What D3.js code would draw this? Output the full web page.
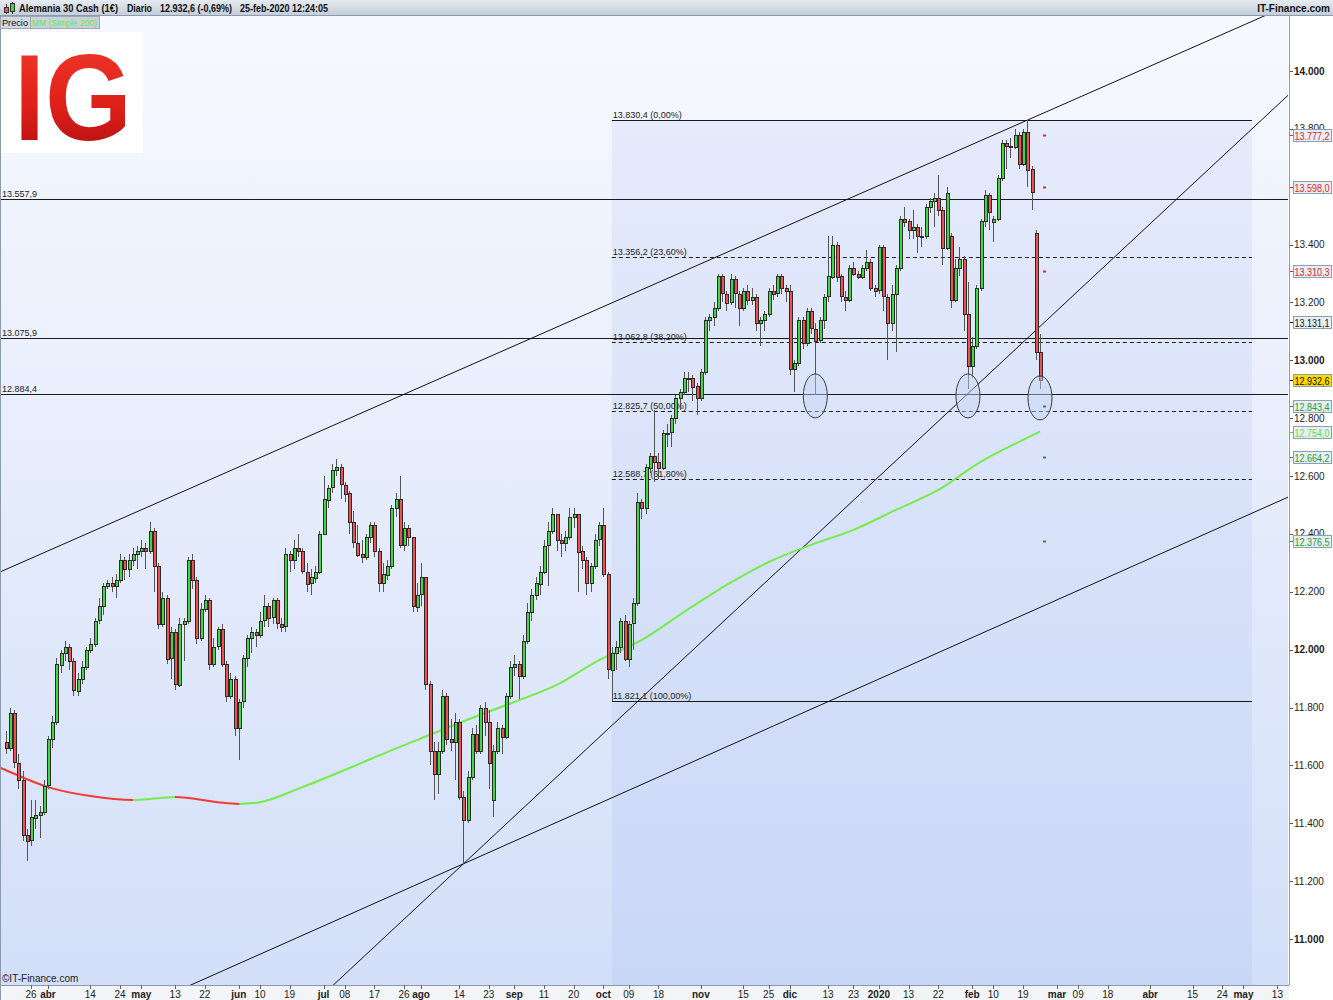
<!DOCTYPE html>
<html>
<head>
<meta charset="utf-8">
<script src="https://cdn.jsdelivr.net/npm/d3@7"></script>
<style>
body { margin: 0; background: #fff; }
svg { display: block; font-family: "Liberation Sans", Arial, sans-serif; }
</style>
</head>
<body>
<div id="chart"></div>
<script>
var firstDay = '2019-03-18';
var lastDay = '2020-05-22';
var holidays = ['2019-12-25', '2020-01-01'];

// daily candles, one per trading day from 18-mar-2019 to 25-feb-2020
var opens = [
	11680,11660,11780,11610,11550,11360,11340,11420,11430,11440,
	11530,11690,11750,11950,11990,12010,11960,11860,11900,11940,12000,12020,12100,12150,12220,12230,12220,12240,12310,12280,12310,12330,
	12340,12350,12340,12410,12290,12090,12180,11970,12060,11880,12090,12100,12310,12240,12040,12140,12170,11950,12010,12070,11950,11840,11900,
	11730,11820,11970,12040,12060,12050,12100,12150,12110,12170,12090,12080,12330,12310,12350,12340,12270,12230,12250,12270,
	12400,12520,12560,12620,12630,12570,12540,12440,12370,12330,12320,12390,12430,12340,12230,12260,12290,12490,12520,12360,12420,12390,12150,
	12190,12250,11880,11650,11570,11650,11840,11690,11680,11750,11490,11410,11560,11710,11650,11800,11750,11480,11650,11730,11700,11840,
	11940,11950,11910,12030,12130,12190,12230,12270,12360,12410,12470,12380,12370,12390,12460,12470,12340,12310,12230,12290,12380,
	12430,12260,11930,11990,12010,12100,11970,12090,12160,12510,12490,12630,12670,12650,12630,12750,12750,12800,12870,12890,12940,12940,12910,
	12870,12960,13140,13150,13180,13290,13230,13200,13280,13230,13180,13240,13210,13220,13130,13140,13160,13240,13230,13290,13250,
	13240,12970,12990,13140,13060,13170,13110,13070,13140,13220,13290,13400,13290,13220,13210,13320,13300,13290,13320,13340,13250,
	13240,13390,13220,13130,13230,13320,13490,13480,13450,13460,13430,13430,13530,13550,13560,13520,13390,13430,13210,13320,13350,13160,
	12980,13050,13250,13480,13570,13480,13490,13630,13750,13740,13740,13780,13680,13790,13660,13440,13030
];
var highs = [
	11720,11800,11790,11640,11580,11380,11480,11480,11460,11550,
	11700,11770,11970,12000,12030,12020,11970,11920,11960,12010,12040,12110,12180,12230,12240,12250,12260,12330,12320,12330,12350,12360,
	12380,12370,12440,12420,12300,12200,12190,12080,12070,12110,12110,12320,12330,12250,12160,12190,12180,12040,12080,12090,11960,11920,11910,
	11830,11980,12050,12080,12070,12130,12190,12160,12180,12180,12110,12350,12340,12380,12400,12350,12300,12280,12290,12410,
	12600,12570,12640,12660,12640,12580,12550,12480,12430,12380,12400,12440,12440,12350,12300,12310,12500,12540,12600,12440,12430,12390,12230,
	12300,12250,11890,11680,11680,11860,11850,11760,11780,11760,11510,11580,11730,11740,11810,11820,11790,11670,11750,11740,11850,11960,
	11980,11960,12050,12160,12210,12250,12290,12380,12440,12490,12470,12400,12410,12490,12490,12470,12360,12320,12300,12400,12440,
	12490,12270,12010,12030,12110,12120,12100,12180,12540,12520,12640,12680,12830,12680,12760,12780,12810,12880,12900,12960,12960,12950,12920,
	12970,13150,13160,13200,13300,13300,13240,13300,13290,13240,13250,13260,13250,13230,13150,13170,13250,13260,13300,13300,13260,
	13260,13000,13150,13150,13180,13180,13130,13150,13230,13430,13430,13410,13300,13240,13330,13340,13310,13330,13380,13350,13260,
	13400,13400,13230,13260,13330,13500,13530,13490,13520,13470,13460,13540,13560,13580,13640,13530,13600,13440,13350,13390,13360,13270,
	13080,13260,13490,13590,13580,13500,13640,13760,13760,13770,13800,13790,13800,13830,13670,13450,13090
];
var lows = [
	11640,11650,11590,11520,11340,11270,11320,11380,11350,11430,
	11520,11660,11740,11920,11960,11930,11840,11840,11880,11930,11990,12010,12090,12120,12210,12200,12180,12230,12240,12250,12290,12280,
	12320,12280,12330,12200,12070,12080,11950,11900,11860,11870,11960,12090,12210,12020,12030,12130,11930,11940,12000,11940,11820,11830,11700,
	11620,11800,11940,11990,12010,12040,12080,12080,12090,12070,12060,12060,12270,12280,12320,12260,12200,12190,12230,12260,
	12400,12490,12540,12600,12520,12510,12400,12350,12320,12300,12310,12370,12320,12200,12200,12240,12280,12460,12350,12340,12360,12130,12130,
	12150,11860,11600,11480,11500,11640,11670,11650,11550,11480,11260,11400,11550,11640,11640,11700,11520,11420,11640,11640,11690,11830,
	11910,11830,11900,12020,12100,12170,12190,12260,12220,12400,12340,12320,12340,12380,12420,12200,12280,12190,12200,12280,12360,
	12250,11900,11821,11930,11990,11960,11940,12000,12150,12450,12470,12610,12580,12590,12620,12700,12700,12780,12830,12880,12890,12860,12810,
	12860,12950,13100,13120,13170,13200,13170,13190,13180,13120,13170,13190,13190,13100,13050,13100,13150,13210,13220,13230,13200,
	12950,12890,12980,13040,13050,13090,12880,13060,13110,13200,13280,13270,13200,13170,13200,13290,13280,13280,13310,13240,13220,
	13230,13170,13000,13100,13030,13310,13460,13420,13420,13370,13390,13420,13510,13460,13500,13330,13380,13180,13200,13290,13100,12900,
	12940,13040,13240,13460,13450,13410,13480,13620,13660,13700,13730,13660,13670,13600,13520,13000,12900
];
var closes = [
	11660,11780,11610,11550,11360,11340,11420,11430,11440,11530,
	11690,11750,11950,11990,12010,11960,11860,11900,11940,12000,12020,12100,12150,12220,12230,12220,12240,12310,12280,12310,12330,12340,
	12350,12340,12410,12290,12090,12180,11970,12060,11880,12090,12100,12310,12240,12040,12140,12170,11950,12010,12070,11950,11840,11900,11730,
	11820,11970,12040,12060,12050,12100,12150,12110,12170,12090,12080,12330,12310,12350,12340,12270,12230,12250,12270,12400,
	12520,12560,12620,12630,12570,12540,12440,12370,12330,12320,12390,12430,12340,12230,12260,12290,12490,12520,12360,12420,12390,12150,12190,
	12250,11880,11650,11570,11650,11840,11690,11680,11750,11490,11410,11560,11710,11650,11800,11750,11610,11650,11730,11700,11840,11940,
	11950,11910,12030,12130,12190,12230,12270,12360,12410,12470,12380,12370,12390,12460,12470,12340,12310,12230,12290,12380,12430,
	12260,11930,11990,12010,12100,11970,12090,12160,12510,12490,12630,12670,12650,12630,12750,12750,12800,12870,12890,12940,12940,12910,12870,
	12960,13140,13150,13180,13290,13230,13200,13280,13230,13180,13240,13210,13220,13130,13140,13160,13240,13230,13290,13250,13240,
	12970,12990,13140,13060,13170,13110,13070,13140,13220,13290,13400,13290,13220,13210,13320,13300,13290,13320,13340,13250,13240,
	13390,13220,13130,13230,13320,13490,13480,13450,13460,13430,13430,13530,13550,13560,13520,13390,13580,13210,13320,13350,13160,12980,
	13050,13250,13480,13570,13510,13490,13630,13750,13740,13740,13780,13680,13790,13660,13580,13030,12932.6
];

// 200-day simple moving average, read at some trading-day positions
var maIdx = [-2, 0, 10, 20, 30, 40, 50, 55, 60, 70, 80, 90, 100, 110, 120, 130, 140, 150, 160, 170, 180, 190, 200, 210, 220, 230, 240, 244];
var maVal = [11597, 11584, 11525, 11494, 11480, 11491, 11473, 11467, 11473, 11525, 11584, 11646, 11705, 11764, 11819, 11878, 11964, 12033, 12130, 12223, 12303, 12362, 12414, 12483, 12552, 12649, 12725, 12754];

var hLines = [13557.9, 13075.9, 12884.4];
var fibRatios = ['0,00%', '23,60%', '38,20%', '50,00%', '61,80%', '100,00%'];
var fibValues = [13830.4, 13356.2, 13062.8, 12825.7, 12588.7, 11821.1];
var fibStart = '2019-10-03';
var fibEnd = '2020-05-05';

// trend lines as two anchors [date, price]
var trendLines = [
	[['2019-03-18', 12277], ['2020-02-20', 13830]],
	[['2019-08-15', 11260], ['2020-01-31', 12885]],
	[['2019-08-15', 11260], ['2020-02-25', 12146]]
];
var circled = [['2019-12-10', 12877], ['2020-01-31', 12877], ['2020-02-25', 12870]];

var tagValues = [13777.2, 13598.0, 13310.3, 13131.1, 12932.6, 12843.4, 12754.0, 12664.2, 12376.5];
var tagKinds = ['r', 'r', 'r', 'p', 'last', 's', 'ma', 's', 's'];

var tickDates = ['2019-03-26','2019-04-01','2019-04-14','2019-04-24','2019-05-01','2019-05-13','2019-05-22','2019-06-01','2019-06-10','2019-06-19','2019-07-01','2019-07-08','2019-07-17','2019-07-26','2019-08-01','2019-08-14','2019-08-23','2019-09-01','2019-09-11','2019-09-20','2019-10-01','2019-10-09','2019-10-18','2019-11-01','2019-11-15','2019-11-25','2019-12-01','2019-12-13','2019-12-23','2020-01-01','2020-01-13','2020-01-22','2020-02-01','2020-02-10','2020-02-19','2020-03-01','2020-03-09','2020-03-18','2020-04-01','2020-04-15','2020-04-24','2020-05-01','2020-05-13'];
var tickLabels = ['26','abr','14','24','may','13','22','jun','10','19','jul','08','17','26','ago','14','23','sep','11','20','oct','09','18','nov','15','25','dic','13','23','2020','13','22','feb','10','19','mar','09','18','abr','15','24','may','13'];

var W = 1333, H = 1000;
var pl = 0, pr = 1288, pt = 16, pb = 985;

var es = d3.formatLocale({decimal: ',', thousands: '.', grouping: [3], currency: ['', '€']});
var fmt0 = es.format(',.0f');
var fmt1 = es.format(',.1f');

var parse = d3.timeParse('%Y-%m-%d');
var fmtDay = d3.timeFormat('%Y-%m-%d');
var days = [];
d3.timeDay.range(parse(firstDay), parse(lastDay)).forEach(function (d) {
	var wd = d.getDay();
	if (wd !== 0 && wd !== 6 && holidays.indexOf(fmtDay(d)) < 0) days.push(fmtDay(d));
});
function dayIndex(s) {
	for (var i = 0; i < days.length; i++) { if (days[i] >= s) return i; }
	return days.length - 1;
}

var x = d3.scaleLinear().domain([-1.32, 302.5]).range([pl, pr]);
var y = d3.scaleLinear().domain([14000, 11000]).range([71, 939]);

var svg = d3.select('#chart').append('svg')
	.attr('width', W)
	.attr('height', H);
var defs = svg.append('defs');

var bg = defs.append('linearGradient').attr('id', 'bg').attr('x1', 0).attr('y1', 0).attr('x2', 0).attr('y2', 1);
bg.append('stop').attr('offset', '0%').attr('stop-color', '#f7f9fe');
bg.append('stop').attr('offset', '100%').attr('stop-color', '#d3dff9');
var fibBg = defs.append('linearGradient').attr('id', 'fibbg').attr('x1', 0).attr('y1', 0).attr('x2', 0).attr('y2', 1);
fibBg.append('stop').attr('offset', '0%').attr('stop-color', '#e5ebfb');
fibBg.append('stop').attr('offset', '100%').attr('stop-color', '#c9d7f7');
var hdr = defs.append('linearGradient').attr('id', 'hdr').attr('x1', 0).attr('y1', 0).attr('x2', 0).attr('y2', 1);
hdr.append('stop').attr('offset', '0%').attr('stop-color', '#e6ebf0');
hdr.append('stop').attr('offset', '100%').attr('stop-color', '#c2ccd7');
var igGrad = defs.append('linearGradient').attr('id', 'ig').attr('x1', 0).attr('y1', 0).attr('x2', 0).attr('y2', 1);
igGrad.append('stop').attr('offset', '0%').attr('stop-color', '#f23b2b');
igGrad.append('stop').attr('offset', '55%').attr('stop-color', '#e0201a');
igGrad.append('stop').attr('offset', '100%').attr('stop-color', '#a80c0c');
defs.append('clipPath').attr('id', 'plotclip')
	.append('rect').attr('x', pl).attr('y', pt).attr('width', pr - pl).attr('height', pb - pt);

// backgrounds
svg.append('rect').attr('x', 0).attr('y', 0).attr('width', W).attr('height', H).attr('fill', '#ffffff');
svg.append('rect').attr('x', pl).attr('y', pt).attr('width', pr - pl).attr('height', pb - pt).attr('fill', 'url(#bg)');
var fx0 = x(dayIndex(fibStart)), fx1 = x(dayIndex(fibEnd));
svg.append('rect')
	.attr('x', fx0).attr('y', y(fibValues[0]))
	.attr('width', fx1 - fx0).attr('height', pb - y(fibValues[0]))
	.attr('fill', 'url(#fibbg)');

var plot = svg.append('g').attr('clip-path', 'url(#plotclip)');

// horizontal user lines
plot.selectAll('line.hl')
	.data(hLines)
	.enter()
	.append('line')
	.attr('class', 'hl')
	.attr('x1', pl).attr('x2', pr)
	.attr('y1', function (d) { return Math.round(y(d)) + 0.5; })
	.attr('y2', function (d) { return Math.round(y(d)) + 0.5; })
	.attr('stroke', '#1a1a1a')
	.attr('stroke-width', 1);
plot.selectAll('text.hl')
	.data(hLines)
	.enter()
	.append('text')
	.attr('class', 'hl')
	.attr('x', 2)
	.attr('y', function (d) { return Math.round(y(d)) - 2; })
	.attr('font-size', 9)
	.attr('fill', '#222')
	.text(function (d) { return fmt1(d); });

// fibonacci levels
plot.selectAll('line.fib')
	.data(fibValues)
	.enter()
	.append('line')
	.attr('class', 'fib')
	.attr('x1', fx0).attr('x2', fx1)
	.attr('y1', function (d) { return Math.round(y(d)) + 0.5; })
	.attr('y2', function (d) { return Math.round(y(d)) + 0.5; })
	.attr('stroke', '#1a1a1a')
	.attr('stroke-dasharray', function (d, i) { return (i === 0 || i === fibValues.length - 1) ? null : '4,3'; });
plot.selectAll('text.fib')
	.data(fibValues)
	.enter()
	.append('text')
	.attr('class', 'fib')
	.attr('x', fx0 + 1)
	.attr('y', function (d) { return Math.round(y(d)) - 2; })
	.attr('font-size', 9)
	.attr('fill', '#222')
	.text(function (d, i) { return fmt1(d) + ' (' + fibRatios[i] + ')'; });

// trend lines, extended across the plot
trendLines.forEach(function (t) {
	var ax = x(dayIndex(t[0][0])), ay = y(t[0][1]);
	var bx = x(dayIndex(t[1][0])), by = y(t[1][1]);
	var m = (by - ay) / (bx - ax);
	plot.append('line')
		.attr('x1', pl - 10).attr('y1', ay + m * (pl - 10 - ax))
		.attr('x2', pr + 10).attr('y2', ay + m * (pr + 10 - ax))
		.attr('stroke', '#111')
		.attr('stroke-width', 1);
});

// moving average, coloured by slope
var maGrad = defs.append('linearGradient').attr('id', 'magrad')
	.attr('gradientUnits', 'userSpaceOnUse')
	.attr('x1', x(maIdx[0])).attr('x2', x(maIdx[maIdx.length - 1]))
	.attr('y1', 0).attr('y2', 0);
var span = maIdx[maIdx.length - 1] - maIdx[0];
for (var k = 0; k < maIdx.length - 1; k++) {
	var col = maVal[k + 1] >= maVal[k] ? '#74ec4c' : '#f03c30';
	maGrad.append('stop').attr('offset', (maIdx[k] - maIdx[0]) / span).attr('stop-color', col);
	maGrad.append('stop').attr('offset', (maIdx[k + 1] - maIdx[0]) / span).attr('stop-color', col);
}
var maLine = d3.line()
	.x(function (d, i) { return x(maIdx[i]); })
	.y(function (d) { return y(d); })
	.curve(d3.curveMonotoneX);
plot.append('path')
	.attr('d', maLine(maVal))
	.attr('fill', 'none')
	.attr('stroke', 'url(#magrad)')
	.attr('stroke-width', 2);

// candles
var candles = plot.append('g').attr('shape-rendering', 'crispEdges');
candles.selectAll('line')
	.data(closes)
	.enter()
	.append('line')
	.attr('x1', function (d, i) { return Math.round(x(i)) + 0.5; })
	.attr('x2', function (d, i) { return Math.round(x(i)) + 0.5; })
	.attr('y1', function (d, i) { return y(highs[i]); })
	.attr('y2', function (d, i) { return y(lows[i]); })
	.attr('stroke', '#555');
candles.selectAll('rect')
	.data(closes)
	.enter()
	.append('rect')
	.attr('x', function (d, i) { return Math.round(x(i)) - 1; })
	.attr('y', function (d, i) { return Math.round(y(Math.max(opens[i], d))); })
	.attr('width', 3)
	.attr('height', function (d, i) { return Math.max(1, Math.round(Math.abs(y(opens[i]) - y(d)))); })
	.attr('fill', function (d, i) { return d >= opens[i] ? '#3fd83f' : '#ef5050'; })
	.attr('stroke', '#2b2b2b')
	.attr('stroke-width', 1);

// circles around the touches
plot.selectAll('ellipse')
	.data(circled)
	.enter()
	.append('ellipse')
	.attr('cx', function (d) { return x(dayIndex(d[0])); })
	.attr('cy', function (d) { return y(d[1]); })
	.attr('rx', 12)
	.attr('ry', 22)
	.attr('fill', '#c5d4f6')
	.attr('fill-opacity', 0.45)
	.attr('stroke', '#3a3a3a')
	.attr('stroke-width', 1);

// pivot marks next to last candle
function tagColor(k) {
	if (k === 'r') return '#ee2020';
	if (k === 's') return '#1e9e1e';
	if (k === 'ma') return '#5fe040';
	return '#111';
}
var lastX = x(closes.length - 1);
plot.selectAll('line.piv')
	.data(tagValues.filter(function (v, i) { return tagKinds[i] === 'r' || tagKinds[i] === 's'; }))
	.enter()
	.append('line')
	.attr('class', 'piv')
	.attr('x1', lastX + 3).attr('x2', lastX + 6)
	.attr('y1', function (d) { return Math.round(y(d)) + 0.5; })
	.attr('y2', function (d) { return Math.round(y(d)) + 0.5; })
	.attr('stroke', function (d) { return d > 13131.1 ? '#ee2020' : '#1e9e1e'; })
	.attr('stroke-width', 2);

// right axis
svg.append('line')
	.attr('x1', pr + 1.5).attr('x2', pr + 1.5)
	.attr('y1', pt).attr('y2', pb)
	.attr('stroke', '#8a9bb0');
// labels hidden completely under a price tag are left out
var yTicks = d3.range(11000, 14001, 200).filter(function (v) {
	return !tagValues.some(function (t) { return Math.abs(y(t) - y(v)) < 4; });
});
var yAxis = svg.append('g');
yAxis.selectAll('line')
	.data(yTicks)
	.enter()
	.append('line')
	.attr('x1', pr + 2).attr('x2', pr + 5)
	.attr('y1', function (d) { return Math.round(y(d)) + 0.5; })
	.attr('y2', function (d) { return Math.round(y(d)) + 0.5; })
	.attr('stroke', '#555');
yAxis.selectAll('text')
	.data(yTicks)
	.enter()
	.append('text')
	.attr('x', pr + 6)
	.attr('y', function (d) { return y(d) + 3.5; })
	.attr('font-size', 10)
	.attr('font-weight', function (d) { return d % 1000 === 0 ? 'bold' : 'normal'; })
	.attr('fill', '#222')
	.text(function (d) { return fmt0(d); });

var tags = svg.append('g').selectAll('g')
	.data(tagValues)
	.enter()
	.append('g')
	.attr('transform', function (d) { return 'translate(' + (pr + 5) + ',' + Math.round(y(d)) + ')'; });
tags.append('line')
	.attr('x1', -3).attr('x2', 0).attr('y1', 0.5).attr('y2', 0.5)
	.attr('stroke', function (d, i) { return tagColor(tagKinds[i]); });
tags.append('rect')
	.attr('x', 0.5).attr('y', -5.5)
	.attr('width', 38).attr('height', 12)
	.attr('fill', function (d, i) { return tagKinds[i] === 'last' ? '#ffd800' : '#e8eef6'; })
	.attr('stroke', '#8d9fb5');
tags.append('text')
	.attr('x', 1.5).attr('y', 4.5)
	.attr('font-size', 10)
	.attr('textLength', 35)
	.attr('lengthAdjust', 'spacingAndGlyphs')
	.attr('fill', function (d, i) { return tagColor(tagKinds[i]); })
	.text(function (d) { return fmt1(d); });

// bottom axis
svg.append('rect').attr('x', 0).attr('y', pb).attr('width', pr + 1).attr('height', H - pb).attr('fill', '#f3f5f8');
svg.append('line').attr('x1', 0).attr('x2', pr + 1).attr('y1', pb + 0.5).attr('y2', pb + 0.5).attr('stroke', '#8a9bb0');
var xAxis = svg.append('g');
xAxis.selectAll('line')
	.data(tickDates)
	.enter()
	.append('line')
	.attr('x1', function (d) { return Math.round(x(dayIndex(d))) + 0.5; })
	.attr('x2', function (d) { return Math.round(x(dayIndex(d))) + 0.5; })
	.attr('y1', pb).attr('y2', pb + 4)
	.attr('stroke', '#666');
xAxis.selectAll('text')
	.data(tickDates)
	.enter()
	.append('text')
	.attr('x', function (d) { return x(dayIndex(d)); })
	.attr('y', pb + 13)
	.attr('text-anchor', 'middle')
	.attr('font-size', 10)
	.attr('font-weight', function (d, i) { return isNaN(+tickLabels[i]) || tickLabels[i].length === 4 ? 'bold' : 'normal'; })
	.attr('fill', '#222')
	.text(function (d, i) { return tickLabels[i]; });
svg.append('line').attr('x1', 0.5).attr('x2', 0.5).attr('y1', pt).attr('y2', H).attr('stroke', '#8a9bb0');

svg.append('text')
	.attr('x', 2).attr('y', pb - 3)
	.attr('font-size', 10)
	.attr('fill', '#222')
	.text('©IT-Finance.com');

// logo
svg.append('rect').attr('x', 1).attr('y', 32).attr('width', 142).attr('height', 121).attr('fill', '#ffffff');
svg.append('text')
	.attr('x', 14).attr('y', 140)
	.attr('font-size', 122)
	.attr('font-weight', 'bold')
	.attr('textLength', 118)
	.attr('lengthAdjust', 'spacingAndGlyphs')
	.attr('fill', 'url(#ig)')
	.text('IG');

// header
svg.append('rect').attr('x', 0).attr('y', 0).attr('width', W).attr('height', pt).attr('fill', 'url(#hdr)');
svg.append('line').attr('x1', 0).attr('x2', W).attr('y1', pt - 0.5).attr('y2', pt - 0.5).attr('stroke', '#8a9bb0');
svg.append('line').attr('x1', 6.5).attr('x2', 6.5).attr('y1', 4).attr('y2', 14).attr('stroke', '#333');
svg.append('rect').attr('x', 4.5).attr('y', 7.5).attr('width', 4).attr('height', 5).attr('fill', '#ef5050').attr('stroke', '#333');
svg.append('line').attr('x1', 12.5).attr('x2', 12.5).attr('y1', 2).attr('y2', 14).attr('stroke', '#333');
svg.append('rect').attr('x', 10.5).attr('y', 3.5).attr('width', 4).attr('height', 8).attr('fill', '#3fd83f').attr('stroke', '#333');
var titleParts = ['Alemania 30 Cash (1€)', 'Diario', '12.932,6 (-0,69%)', '25-feb-2020 12:24:05'];
var titleX = [19, 127, 160, 240];
var titleW = [99, 25, 72, 88];
svg.selectAll('text.title')
	.data(titleParts)
	.enter()
	.append('text')
	.attr('class', 'title')
	.attr('x', function (d, i) { return titleX[i]; })
	.attr('y', 12)
	.attr('font-size', 10)
	.attr('font-weight', 'bold')
	.attr('textLength', function (d, i) { return titleW[i]; })
	.attr('lengthAdjust', 'spacingAndGlyphs')
	.attr('fill', '#111')
	.text(function (d) { return d; });
svg.append('text')
	.attr('x', 1330).attr('y', 12)
	.attr('text-anchor', 'end')
	.attr('font-size', 10)
	.attr('font-weight', 'bold')
	.attr('fill', '#111')
	.text('IT-Finance.com');

// legend
svg.append('rect').attr('x', 0.5).attr('y', 16.5).attr('width', 30).attr('height', 12).attr('fill', '#d3d9e0').attr('stroke', '#9aa8b8');
svg.append('text').attr('x', 2).attr('y', 26).attr('font-size', 9).attr('textLength', 26).attr('lengthAdjust', 'spacingAndGlyphs').attr('fill', '#111').text('Precio');
svg.append('rect').attr('x', 30.5).attr('y', 16.5).attr('width', 69).attr('height', 12).attr('fill', '#c9d1da').attr('stroke', '#9aa8b8');
svg.append('text').attr('x', 32).attr('y', 26).attr('font-size', 9).attr('textLength', 65).attr('lengthAdjust', 'spacingAndGlyphs').attr('fill', '#6de64a').text('MM (Simple 200)');
</script>
</body>
</html>
